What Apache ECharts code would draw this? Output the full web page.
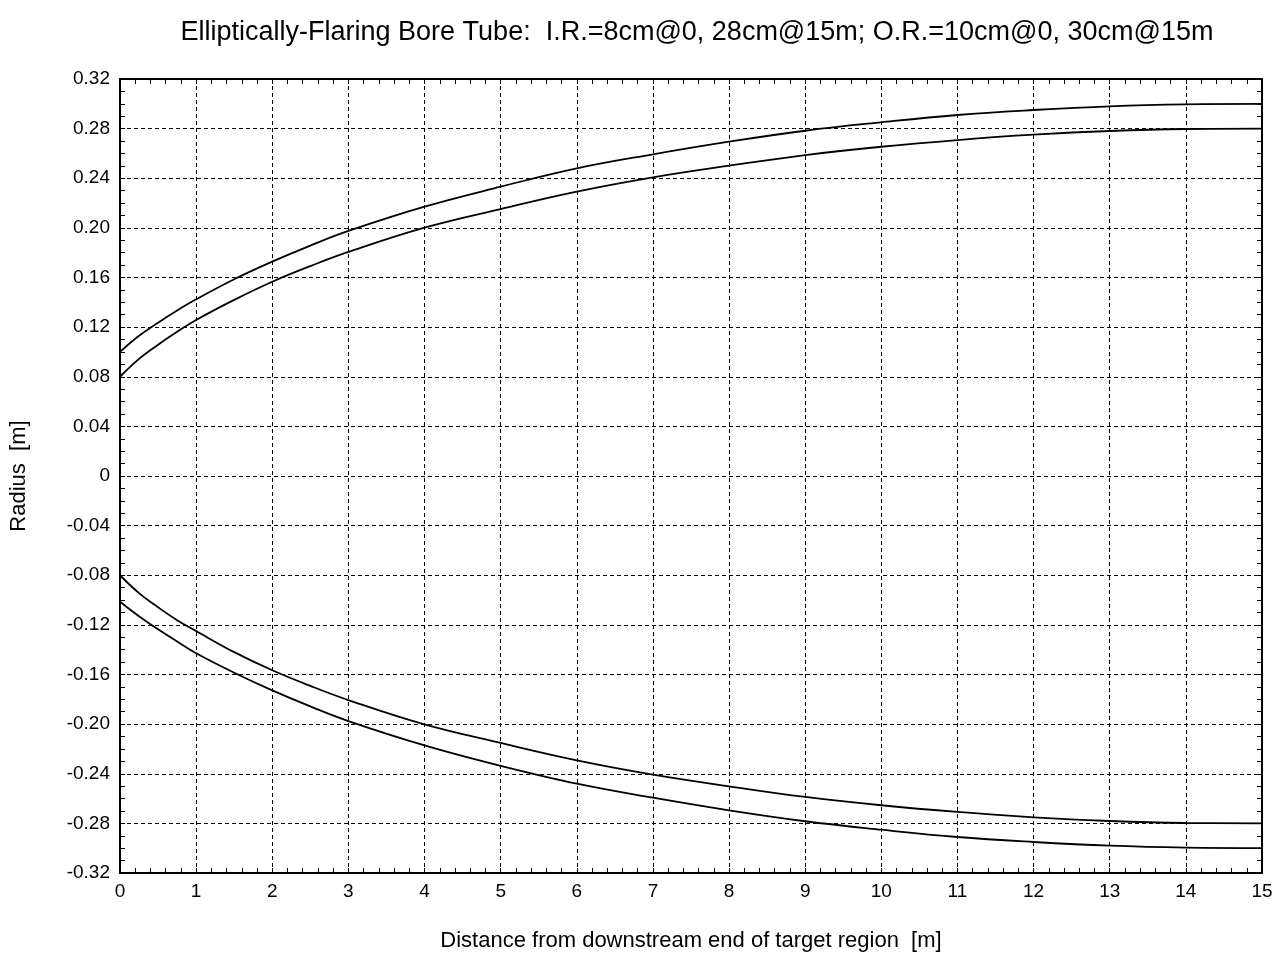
<!DOCTYPE html>
<html>
<head>
<meta charset="utf-8">
<script src="https://cdn.jsdelivr.net/npm/echarts@6/dist/echarts.min.js"></script>
<style>
html,body{margin:0;padding:0;background:#fff;}
#chart{width:1288px;height:954px;}
</style>
</head>
<body>
<div id="chart"></div>
<script>
// Distance along tube [m]
const distance = [0, 0.25, 0.5, 0.75, 1, 1.5, 2, 2.5, 3, 4, 5, 6, 7, 8, 9, 10, 11, 12, 13, 14, 15];
// Upper outer radius [m]
const upperOuter = [0.100, 0.113, 0.1236, 0.1334, 0.1424, 0.1586, 0.1728, 0.1857, 0.1975, 0.2171, 0.2332, 0.2480, 0.2593, 0.2695, 0.2783, 0.2851, 0.2910, 0.2950, 0.2980, 0.2996, 0.300];
// Upper inner radius [m]
const upperInner = [0.080, 0.0944, 0.1058, 0.1162, 0.1258, 0.1420, 0.1566, 0.1692, 0.1806, 0.2002, 0.2152, 0.2292, 0.2407, 0.2501, 0.2587, 0.2654, 0.2708, 0.2751, 0.2781, 0.2797, 0.280];
// Lower inner radius [m]
const lowerInner = [-0.080, -0.0944, -0.1058, -0.1162, -0.1250, -0.1420, -0.1566, -0.1692, -0.1806, -0.2002, -0.2152, -0.2292, -0.2407, -0.2501, -0.2587, -0.2654, -0.2708, -0.2751, -0.2781, -0.2797, -0.280];
// Lower outer radius [m]
const lowerOuter = [-0.1013, -0.113, -0.1236, -0.1334, -0.1429, -0.1586, -0.1728, -0.1857, -0.1975, -0.2171, -0.2336, -0.2480, -0.2593, -0.2695, -0.2783, -0.2851, -0.2910, -0.2950, -0.2980, -0.2996, -0.300];

const xTickLabels = ['0','1','2','3','4','5','6','7','8','9','10','11','12','13','14','15'];
const yTickValues = [-0.32,-0.28,-0.24,-0.20,-0.16,-0.12,-0.08,-0.04,0,0.04,0.08,0.12,0.16,0.20,0.24,0.28,0.32];
const yTickLabels = ['-0.32','-0.28','-0.24','-0.20','-0.16','-0.12','-0.08','-0.04','0','0.04','0.08','0.12','0.16','0.20','0.24','0.28','0.32'];

const titleText = 'Elliptically-Flaring Bore Tube:  I.R.=8cm@0, 28cm@15m; O.R.=10cm@0, 30cm@15m';
const xName = 'Distance from downstream end of target region  [m]';
const yName = 'Radius  [m]';

const FONT = '"Liberation Sans", Arial, Helvetica, sans-serif';

function pairs(ys){ return distance.map((x,i)=>[x, ys[i]]); }
function yLabel(v){
  let best = 0, bd = Infinity;
  yTickValues.forEach((t,i)=>{ const d = Math.abs(t-v); if(d<bd){bd=d;best=i;} });
  return yTickLabels[best];
}
function xLabel(v){ return xTickLabels[Math.round(v)] ?? ''; }

const chart = echarts.init(document.getElementById('chart'), null, {renderer:'canvas'});

const lineStyle = {color:'#000', width:1.8};
function mkSeries(name, ys){
  return {name, type:'line', data:pairs(ys), showSymbol:false, smooth:0.4,
    lineStyle, xAxisIndex:0, yAxisIndex:0, silent:true, animation:false};
}

const tickCfg = {show:true, inside:true, length:5, lineStyle:{color:'#000', width:1}};

chart.setOption({
  animation:false,
  backgroundColor:'#fff',
  title:{
    text:titleText, left:692, top:14, textAlign:'center',
    textStyle:{fontFamily:FONT, fontSize:27, fontWeight:'normal', color:'#000'}
  },
  grid:{left:120, right:26, top:79, bottom:81, show:true, borderColor:'#000', borderWidth:2,
    backgroundColor:'transparent', containLabel:false, outerBoundsMode:'none'},
  xAxis:[{
    type:'value', min:0, max:15, interval:1, position:'bottom',
    name:xName, nameLocation:'middle', nameGap:57,
    nameTextStyle:{fontFamily:FONT, fontSize:22, color:'#000'},
    axisLine:{show:true, onZero:false, lineStyle:{color:'#000', width:2}},
    axisTick:tickCfg,
    minorTick:{show:true, splitNumber:5, length:5, lineStyle:{color:'#000'}},
    axisLabel:{fontFamily:FONT, fontSize:19, color:'#000', margin:9, formatter:xLabel},
    splitLine:{show:true, lineStyle:{color:'#000', type:[4,3], width:1}}
  },{
    type:'value', min:0, max:15, interval:1, position:'top',
    axisLine:{show:true, onZero:false, lineStyle:{color:'#000', width:2}},
    axisTick:tickCfg,
    minorTick:{show:true, splitNumber:5, length:5, lineStyle:{color:'#000'}},
    axisLabel:{show:false}, splitLine:{show:false}
  }],
  yAxis:[{
    type:'value', min:-0.32, max:0.32, interval:0.04, position:'left',
    name:yName, nameLocation:'middle', nameGap:90, nameRotate:90,
    nameTextStyle:{fontFamily:FONT, fontSize:22, color:'#000'},
    axisLine:{show:true, onZero:false, lineStyle:{color:'#000', width:2}},
    axisTick:tickCfg,
    minorTick:{show:true, splitNumber:4, length:5, lineStyle:{color:'#000'}},
    axisLabel:{fontFamily:FONT, fontSize:19, color:'#000', margin:10, formatter:yLabel},
    splitLine:{show:true, lineStyle:{color:'#000', type:[4,3], width:1}}
  },{
    type:'value', min:-0.32, max:0.32, interval:0.04, position:'right',
    axisLine:{show:true, onZero:false, lineStyle:{color:'#000', width:2}},
    axisTick:tickCfg,
    minorTick:{show:true, splitNumber:4, length:5, lineStyle:{color:'#000'}},
    axisLabel:{show:false}, splitLine:{show:false}
  }],
  series:[
    mkSeries('Upper outer', upperOuter),
    mkSeries('Upper inner', upperInner),
    mkSeries('Lower inner', lowerInner),
    mkSeries('Lower outer', lowerOuter)
  ]
});
</script>
</body>
</html>
